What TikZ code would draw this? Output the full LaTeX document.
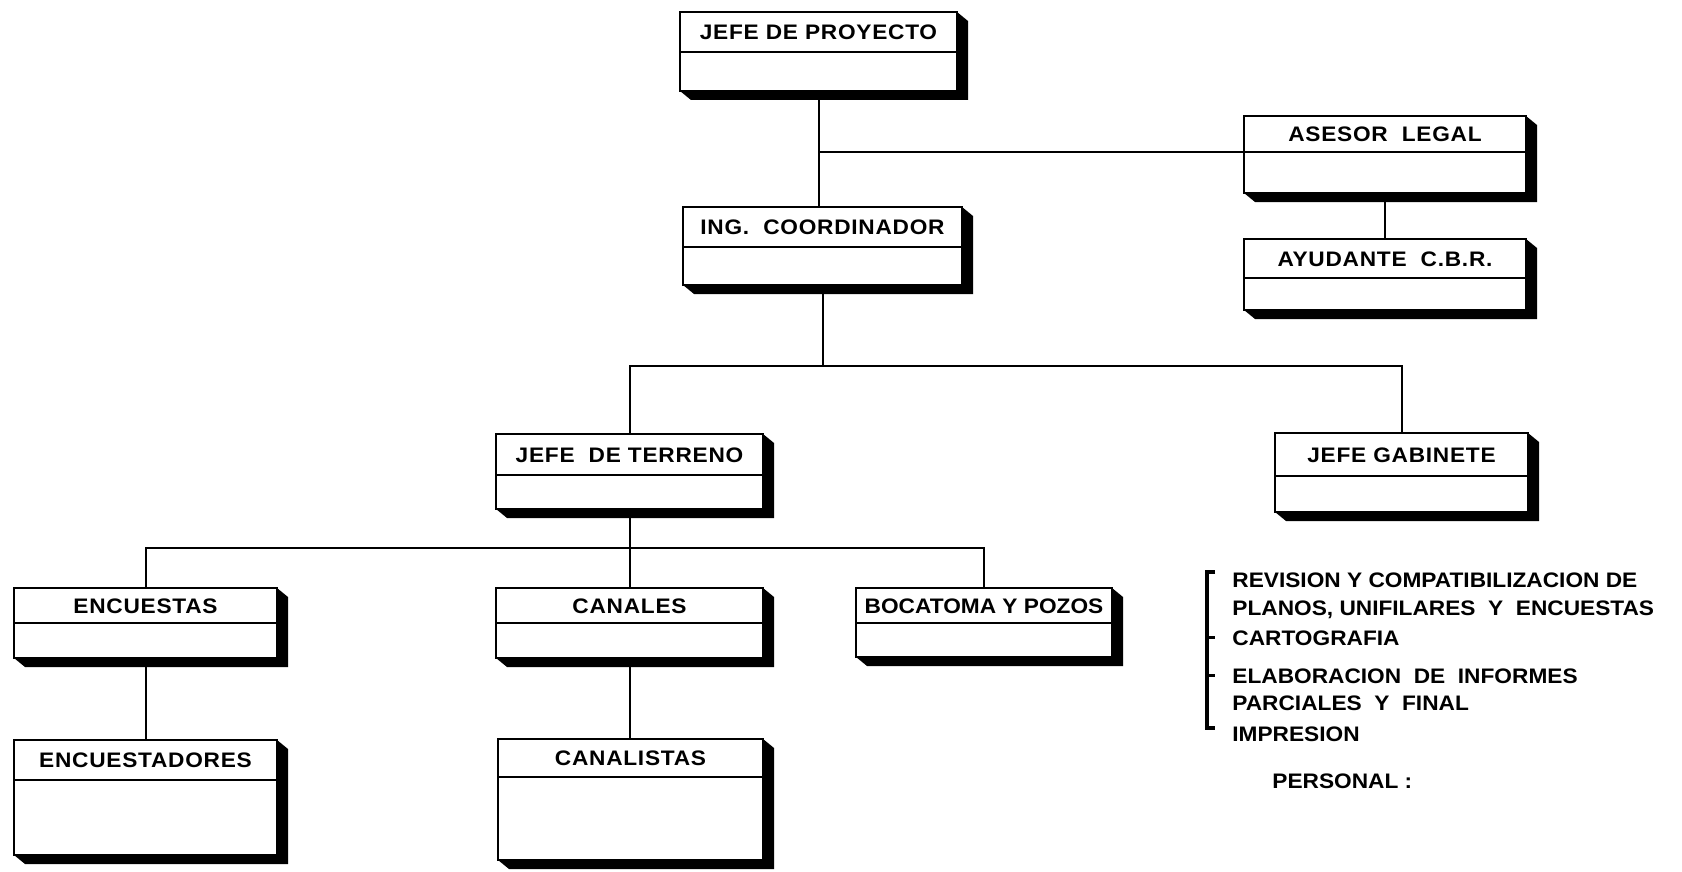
\documentclass[tikz,border=0pt]{standalone}
\usepackage{fontspec}
\setmainfont{Liberation Sans}[FakeStretch=1.08]
\usetikzlibrary{positioning}

\tikzset{
  cabeza/.style={draw, line width=1.4pt, inner sep=0pt, outer sep=0pt, anchor=north west,
    text height=7.6pt, text depth=0pt, font=\fontsize{10.5}{12}\selectfont\bfseries\addfontfeature{LetterSpace=3.5}},
  apretada/.style={font=\fontsize{10.5}{12}\selectfont\bfseries},
  cuerpo/.style={draw, line width=1.4pt, inner sep=0pt, outer sep=0pt},
  linea/.style={line width=1pt},
  lista/.style={inner sep=0pt, anchor=base west, font=\fontsize{10.5}{12}\selectfont\bfseries},
  llave/.style={line width=1.6pt},
  sombra/.style={fill=black}
}

\begin{document}
\begin{tikzpicture}[x=0.5pt, y=-0.5pt]
        \useasboundingbox (0,0) rectangle (1682,872);

        % cargos
        \node (jp) [cabeza, minimum width=138.5pt, minimum height=20pt] at (680,12) {JEFE DE PROYECTO};
        \node (jp-b) [cuerpo, below=0pt of jp, minimum width=138.5pt, minimum height=19.5pt] {};
        \node (ic) [cabeza, minimum width=139.5pt, minimum height=20pt] at (683,207) {ING.\ \ COORDINADOR};
        \node (ic-b) [cuerpo, below=0pt of ic, minimum width=139.5pt, minimum height=19pt] {};
        \node (al) [cabeza, minimum width=141pt, minimum height=18pt] at (1244,116) {ASESOR\ \ LEGAL};
        \node (al-b) [cuerpo, below=0pt of al, minimum width=141pt, minimum height=20.5pt] {};
        \node (ay) [cabeza, minimum width=141pt, minimum height=19.5pt] at (1244,239) {AYUDANTE\ \ C.B.R.};
        \node (ay-b) [cuerpo, below=0pt of ay, minimum width=141pt, minimum height=16pt] {};
        \node (jt) [cabeza, minimum width=133.5pt, minimum height=20.5pt] at (496,434) {JEFE\ \ DE TERRENO};
        \node (jt-b) [cuerpo, below=0pt of jt, minimum width=133.5pt, minimum height=17pt] {};
        \node (jg) [cabeza, minimum width=126.5pt, minimum height=21.5pt] at (1275,433) {JEFE GABINETE};
        \node (jg-b) [cuerpo, below=0pt of jg, minimum width=126.5pt, minimum height=18pt] {};
        \node (en) [cabeza, minimum width=131.5pt, minimum height=17.5pt] at (14,588) {ENCUESTAS};
        \node (en-b) [cuerpo, below=0pt of en, minimum width=131.5pt, minimum height=17.5pt] {};
        \node (ca) [cabeza, minimum width=133.5pt, minimum height=17.5pt] at (496,588) {CANALES};
        \node (ca-b) [cuerpo, below=0pt of ca, minimum width=133.5pt, minimum height=17.5pt] {};
        \node (bo) [cabeza, apretada, minimum width=128pt, minimum height=17.5pt] at (856,588) {BOCATOMA Y POZOS};
        \node (bo-b) [cuerpo, below=0pt of bo, minimum width=128pt, minimum height=17pt] {};
        \node (es) [cabeza, minimum width=131.5pt, minimum height=20pt] at (14,740) {ENCUESTADORES};
        \node (es-b) [cuerpo, below=0pt of es, minimum width=131.5pt, minimum height=37.5pt] {};
        \node (cn) [cabeza, minimum width=132.5pt, minimum height=19pt] at (498,739) {CANALISTAS};
        \node (cn-b) [cuerpo, below=0pt of cn, minimum width=132.5pt, minimum height=41.5pt] {};

        % lineas
        \coordinate (nivel1) at (814,366);
        \coordinate (nivel2) at (633,548);
        \draw [linea] (jp-b.south) -- (jp-b.south |- ic.north);
        \draw [linea] (al.south west) -- (al.south west -| jp-b.south);
        \draw [linea] (al-b.south) -- (ay.north);
        \draw [linea] (ic-b.south) -- (ic-b.south |- nivel1);
        \draw [linea] (jt.north) |- (jg.north |- nivel1) -- (jg.north);
        \draw [linea] (jt-b.south) -- (ca.north);
        \draw [linea] (en.north) |- (bo.north |- nivel2) -- (bo.north);
        \draw [linea] (en-b.south) -- (es.north);
        \draw [linea] (ca-b.south) -- (ca-b.south |- cn.north);

        % sombras
        \foreach \a in {jp,ic,al,ay,jt,jg,en,ca,bo,es,cn}
            \fill [sombra] (\a.north east) -- ++(5.5pt,-4.5pt) -- ([shift={(5.5pt,-4.5pt)}]\a-b.south east)
                -- ([shift={(5.5pt,-4.5pt)}]\a-b.south west) -- (\a-b.south west) -- (\a-b.south east) -- cycle;

        % funciones del gabinete
        \node (f1a) [lista] at (1232,587) {REVISION Y COMPATIBILIZACION DE};
        \node (f1b) [lista] at (1232,615) {PLANOS,\ UNIFILARES\ \ Y\ \ ENCUESTAS};
        \node (f2) [lista] at (1232,645) {CARTOGRAFIA};
        \node (f3a) [lista] at (1232,683) {ELABORACION\ \ DE\ \ INFORMES};
        \node (f3b) [lista] at (1232,710) {PARCIALES\ \ Y\ \ FINAL};
        \node (f4) [lista] at (1232,741) {IMPRESION};
        \node (pers) [lista] at (1272,788) {PERSONAL\ :};

        \coordinate (llave-a) at (1207,572);
        \coordinate (llave-b) at (1207,728);
        \draw [llave] ([xshift=4pt]llave-a) -- (llave-a) -- (llave-b) -- ([xshift=4pt]llave-b);
        \draw [llave] (llave-a |- f2.west) -- ++(4pt,0);
        \draw [llave] (llave-a |- f3a.west) -- ++(4pt,0);

\end{tikzpicture}
\end{document}
